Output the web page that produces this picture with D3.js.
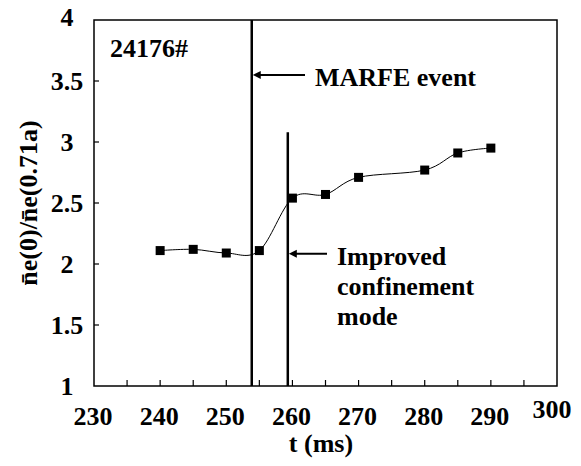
<!DOCTYPE html>
<html>
<head>
<meta charset="utf-8">
<script src="https://cdn.jsdelivr.net/npm/d3@7"></script>
</head>
<body style="margin:0">
<svg id="chart" width="581" height="466"></svg>
<script>
// ---- data ----
const timeMs = [240, 245, 250, 255, 260, 265, 270, 280, 285, 290];
const ratio  = [2.11, 2.12, 2.09, 2.11, 2.54, 2.57, 2.71, 2.77, 2.91, 2.95];
const xTickValues = [230, 240, 250, 260, 270, 280, 290, 300];
const xMinorTicks = [235, 240, 245, 250, 255, 260, 265, 270, 275, 280, 285, 290, 295];
const yTickValues = [1, 1.5, 2, 2.5, 3, 3.5, 4];
const marfeTime = 253.85;
const improvedTime = 259.3;
const improvedTop = 3.08;
const marfeArrowY = 3.55;
const improvedArrowY = 2.085;
const shotLabel = "24176#";
const marfeLabel = "MARFE event";
const improvedLabel = ["Improved", "confinement", "mode"];
const xTitle = "t (ms)";
const yTitle = "n\u0304e(0)/n\u0304e(0.71a)";

// ---- layout ----
const svg = d3.select("#chart");
const L = 94, R = 557, T = 20, B = 386;
const x = d3.scaleLinear().domain([230, 300]).range([L, R]);
const y = d3.scaleLinear().domain([1, 4]).range([B, T]);

svg.append("rect").attr("width", 581).attr("height", 466).attr("fill", "#fff");

function txt(sel) {
  return sel.style("font-family", "Liberation Serif")
    .attr("font-family", "Liberation Serif")
    .attr("font-weight", "bold").attr("font-size", 26).attr("fill", "#000");
}

// frame
svg.append("rect")
  .attr("x", L).attr("y", T).attr("width", R - L).attr("height", B - T)
  .attr("fill", "none").attr("stroke", "#000").attr("stroke-width", 1.5);

// x ticks (inward)
svg.append("g").selectAll("line").data(xMinorTicks).join("line")
  .attr("x1", d => x(d)).attr("x2", d => x(d))
  .attr("y1", B).attr("y2", B - 6)
  .attr("stroke", "#000").attr("stroke-width", 1.2);

// y ticks (inward)
svg.append("g").selectAll("line").data(yTickValues.slice(1, -1)).join("line")
  .attr("x1", L).attr("x2", L + 5)
  .attr("y1", d => y(d)).attr("y2", d => y(d))
  .attr("stroke", "#000").attr("stroke-width", 1.2);

// x tick labels
txt(svg.append("g").selectAll("text").data(xTickValues).join("text"))
  .attr("x", d => x(d) - (d === 300 ? 5 : 1))
  .attr("y", d => d === 300 ? 418 : 425)
  .attr("text-anchor", "middle")
  .text(d => String(d));

// y tick labels
txt(svg.append("g").selectAll("text").data(yTickValues).join("text"))
  .attr("x", 67)
  .attr("y", d => y(d) + (d === 4 ? -3 : 0))
  .attr("dy", "0.35em")
  .attr("text-anchor", "middle")
  .text(d => String(d));

// axis titles
txt(svg.append("text"))
  .attr("x", 321).attr("y", 452)
  .attr("text-anchor", "middle")
  .text(xTitle);

txt(svg.append("text"))
  .attr("transform", `translate(37,${(T + B) / 2}) rotate(-90)`)
  .attr("text-anchor", "middle")
  .text(yTitle);

// vertical event lines
svg.append("line")
  .attr("x1", x(marfeTime)).attr("x2", x(marfeTime))
  .attr("y1", y(4)).attr("y2", y(1))
  .attr("stroke", "#000").attr("stroke-width", 2.5);
svg.append("line")
  .attr("x1", x(improvedTime)).attr("x2", x(improvedTime))
  .attr("y1", y(improvedTop)).attr("y2", y(1))
  .attr("stroke", "#000").attr("stroke-width", 2.5);

// arrows
function arrow(x0, x1, yy) {
  svg.append("line")
    .attr("x1", x1).attr("x2", x0 + 6)
    .attr("y1", yy).attr("y2", yy)
    .attr("stroke", "#000").attr("stroke-width", 2);
  svg.append("path")
    .attr("d", `M${x0},${yy} L${x0 + 8},${yy - 4} L${x0 + 8},${yy + 4} Z`)
    .attr("fill", "#000");
}
arrow(x(marfeTime) + 1, 305, y(marfeArrowY));
arrow(x(improvedTime) + 1, 327, y(improvedArrowY));

// smoothed line
const pts = timeMs.map((t, i) => [t, ratio[i]]);
svg.append("path")
  .datum(pts)
  .attr("fill", "none")
  .attr("stroke", "#000")
  .attr("stroke-width", 1)
  .attr("d", d3.line().x(d => x(d[0])).y(d => y(d[1])).curve(d3.curveCardinal.tension(0)));

// markers
svg.append("g").selectAll("rect").data(pts).join("rect")
  .attr("x", d => x(d[0]) - 4.5).attr("y", d => y(d[1]) - 4.5)
  .attr("width", 9).attr("height", 9)
  .attr("fill", "#000");

// annotations
txt(svg.append("text")).attr("x", 110).attr("y", 57).text(shotLabel);
txt(svg.append("text")).attr("x", 315).attr("y", 86).text(marfeLabel);
txt(svg.append("text"))
  .selectAll("tspan").data(improvedLabel).join("tspan")
  .attr("x", 337).attr("y", (d, i) => 265 + i * 30)
  .text(d => d);
</script>
</body>
</html>
